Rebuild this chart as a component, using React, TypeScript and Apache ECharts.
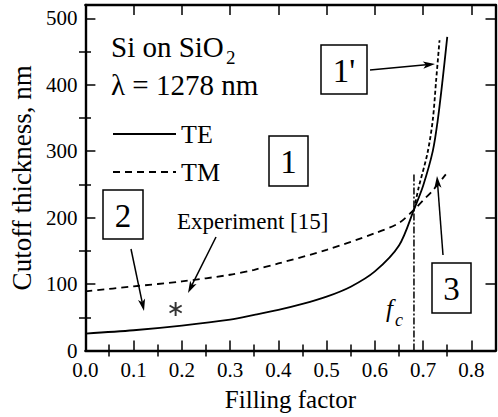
import React, { useEffect, useRef } from 'react';
import * as echarts from 'echarts';

const FONT = 'Liberation Serif';

// Tick values
const xMajorTicks = [0, 0.1, 0.2, 0.3, 0.4, 0.5, 0.6, 0.7, 0.8];
const xMinorTicks = [0.05, 0.15, 0.25, 0.35, 0.45, 0.55, 0.65, 0.75];
const yMajorTicks = [0, 100, 200, 300, 400, 500];
const yMinorTicks = [50, 150, 250, 350, 450];

// TE cutoff thickness (solid)
const teX = [0, 0.1, 0.2, 0.3, 0.35, 0.4, 0.45, 0.5, 0.55, 0.6, 0.65, 0.681, 0.7, 0.72, 0.73, 0.74, 0.75];
const teY = [25.5, 30.5, 37.5, 46.5, 53.5, 61, 70, 81, 96, 119, 158, 212, 248, 300, 345, 405, 472];

// TM cutoff thickness (dashed, lower branch)
const tmX = [0, 0.1, 0.2, 0.3, 0.35, 0.4, 0.5, 0.6, 0.65, 0.681, 0.7, 0.72, 0.747];
const tmY = [89, 96.5, 104, 114, 121.5, 131, 151.5, 176.5, 192, 212, 226, 241, 265];

// TM branch 1' (dashed, steep)
const tm1X = [0.681, 0.691, 0.709, 0.72, 0.727, 0.734];
const tm1Y = [212, 246, 297, 347, 407, 467];

// critical filling factor f_c
const fcX = [0.681, 0.681];
const fcY = [0, 267];

// Experiment [15]
const expX = [0.187];
const expY = [62.5];

const pairs = (xs: number[], ys: number[]) => xs.map((x, i) => [x, ys[i]]);

function asteriskPath(): string {
  const parts: string[] = [];
  const L = 10;
  const w = 1.4;
  for (const deg of [90, 30, 150]) {
    const a = (deg * Math.PI) / 180;
    const dx = Math.cos(a);
    const dy = Math.sin(a);
    const nx = -dy;
    const ny = dx;
    const pts = [
      [L * dx + w * nx, L * dy + w * ny],
      [L * dx - w * nx, L * dy - w * ny],
      [-L * dx - w * nx, -L * dy - w * ny],
      [-L * dx + w * nx, -L * dy + w * ny],
    ];
    parts.push('M' + pts.map((p) => p[0].toFixed(2) + ' ' + p[1].toFixed(2)).join(' L') + ' Z');
  }
  return 'path://' + parts.join(' ');
}

function arrow(x1: number, y1: number, x2: number, y2: number): any[] {
  const dx = x2 - x1;
  const dy = y2 - y1;
  const len = Math.hypot(dx, dy);
  const ux = dx / len;
  const uy = dy / len;
  const hl = 12;
  const hw = 3.6;
  const bx = x2 - ux * hl;
  const by = y2 - uy * hl;
  return [
    {
      type: 'line',
      silent: true,
      shape: { x1, y1, x2: bx + ux * 3, y2: by + uy * 3 },
      style: { stroke: '#000', lineWidth: 1.5 },
    },
    {
      type: 'polygon',
      silent: true,
      shape: {
        points: [
          [x2, y2],
          [bx - uy * hw, by + ux * hw],
          [bx + ux * 3, by + uy * 3],
          [bx + uy * hw, by - ux * hw],
        ],
      },
      style: { fill: '#000' },
    },
  ];
}

function txt(text: string, x: number, y: number, size: number, align = 'left', italic = false): any {
  return {
    type: 'text',
    silent: true,
    x,
    y,
    style: {
      text,
      fill: '#000',
      fontSize: size,
      fontFamily: FONT,
      fontStyle: italic ? 'italic' : 'normal',
      align,
      verticalAlign: 'middle',
      textAlign: align,
      textVerticalAlign: 'middle',
    },
  };
}

function box(label: string, x: number, y: number, w: number, h: number): any[] {
  return [
    {
      type: 'rect',
      silent: true,
      shape: { x, y, width: w, height: h },
      style: { fill: '#fff', stroke: '#000', lineWidth: 1.5 },
    },
    txt(label, x + w / 2, y + h / 2 + 1, 33, 'center'),
  ];
}

const axisLine = { show: true, onZero: false, lineStyle: { color: '#000', width: 2.4 } };

function majorX(position: 'bottom' | 'top', labels: boolean, gridIndex: number): any {
  return {
    type: 'value',
    gridIndex,
    position,
    min: 0,
    max: 0.85,
    axisLine,
    splitLine: { show: false },
    axisTick: { show: true, inside: true, length: 10, lineStyle: { color: '#000', width: 1.5 }, customValues: xMajorTicks },
    axisLabel: {
      show: labels,
      customValues: xMajorTicks,
      margin: 9,
      color: '#000',
      fontFamily: FONT,
      fontSize: 21,
      formatter: (v: number) => v.toFixed(1),
    },
    ...(labels
      ? {
          name: 'Filling factor',
          nameLocation: 'middle',
          nameGap: 36,
          nameTextStyle: { color: '#000', fontFamily: FONT, fontSize: 25 },
        }
      : {}),
  };
}

function minorX(position: 'bottom' | 'top'): any {
  return {
    type: 'value',
    gridIndex: 1,
    position,
    min: 0,
    max: 0.85,
    axisLine: { show: false },
    splitLine: { show: false },
    axisTick: { show: true, inside: true, length: 6, lineStyle: { color: '#000', width: 1.5 }, customValues: xMinorTicks },
    axisLabel: { show: false },
  };
}

function majorY(position: 'left' | 'right', labels: boolean, gridIndex: number): any {
  return {
    type: 'value',
    gridIndex,
    position,
    min: 0,
    max: 520,
    axisLine,
    splitLine: { show: false },
    axisTick: { show: true, inside: true, length: 10, lineStyle: { color: '#000', width: 1.5 }, customValues: yMajorTicks },
    axisLabel: {
      show: labels,
      customValues: yMajorTicks,
      margin: 8,
      color: '#000',
      fontFamily: FONT,
      fontSize: 21,
    },
    ...(labels
      ? {
          name: 'Cutoff thickness, nm',
          nameLocation: 'middle',
          nameGap: 39,
          nameTextStyle: { color: '#000', fontFamily: FONT, fontSize: 27 },
        }
      : {}),
  };
}

function minorY(position: 'left' | 'right'): any {
  return {
    type: 'value',
    gridIndex: 1,
    position,
    min: 0,
    max: 520,
    axisLine: { show: false },
    splitLine: { show: false },
    axisTick: { show: true, inside: true, length: 6, lineStyle: { color: '#000', width: 1.5 }, customValues: yMinorTicks },
    axisLabel: { show: false },
  };
}

export default function App() {
  const ref = useRef<HTMLDivElement>(null);

  useEffect(() => {
    if (!ref.current) return;
    const chart = echarts.init(ref.current, null, { renderer: 'svg' });
    const gridPos = { left: 85, right: 2.5, top: 5, bottom: 66.5, containLabel: false };

    const graphic: any[] = [
      txt('Si on SiO', 111, 46.5, 29),
      txt('2', 226, 57.5, 19),
      txt('λ = 1278 nm', 111, 85, 29),
      txt('Experiment [15]', 177, 221.5, 23),
      txt('f', 386, 308, 25, 'left', true),
      txt('c', 395, 320, 18, 'left', true),
      ...box("1'", 321, 45, 46, 49),
      ...box('1', 269, 136, 39, 50),
      ...box('2', 103, 190, 40, 49),
      ...box('3', 432, 263, 39, 50),
      ...arrow(370, 70, 435, 64),
      ...arrow(131, 249, 144, 311),
      ...arrow(216, 237, 188, 293),
      ...arrow(443, 255, 437, 176),
    ];

    const lineBase = {
      type: 'line',
      symbol: 'circle',
      showSymbol: false,
      smooth: 0.3,
      itemStyle: { color: '#000' },
      z: 3,
    };

    chart.setOption({
      animation: false,
      backgroundColor: '#fff',
      color: ['#000'],
      grid: [gridPos, gridPos],
      xAxis: [majorX('bottom', true, 0), majorX('top', false, 0), minorX('bottom'), minorX('top')],
      yAxis: [majorY('left', true, 0), majorY('right', false, 0), minorY('left'), minorY('right')],
      legend: {
        orient: 'vertical',
        left: 112,
        top: 121,
        padding: 0,
        itemWidth: 63,
        itemHeight: 30,
        itemGap: 12,
        selectedMode: false,
        data: ['TE', 'TM'],
        itemStyle: { opacity: 0 },
        textStyle: { color: '#000', fontFamily: FONT, fontSize: 26 },
      },
      series: [
        {
          ...lineBase,
          name: 'TE',
          data: pairs(teX, teY),
          lineStyle: { color: '#000', width: 1.8, type: 'solid' },
        },
        {
          ...lineBase,
          name: 'TM',
          data: pairs(tmX, tmY),
          lineStyle: { color: '#000', width: 1.8, type: [7, 5] },
        },
        {
          ...lineBase,
          name: "TM 1'",
          data: pairs(tm1X, tm1Y),
          lineStyle: { color: '#000', width: 1.8, type: [4, 2.5] },
        },
        {
          ...lineBase,
          name: 'f_c',
          smooth: false,
          data: pairs(fcX, fcY),
          lineStyle: { color: '#000', width: 1.5, type: [7, 2, 2, 2] },
          z: 2,
        },
        {
          name: 'Experiment [15]',
          type: 'scatter',
          data: pairs(expX, expY),
          symbol: asteriskPath(),
          symbolSize: 14,
          symbolKeepAspect: true,
          itemStyle: { color: '#000' },
          z: 4,
        },
      ],
      graphic,
    });

    return () => {
      chart.dispose();
    };
  }, []);

  return (
    <div
      ref={ref}
      style={{ position: 'fixed', left: 0, top: 0, width: 498, height: 417, background: '#fff' }}
    />
  );
}
